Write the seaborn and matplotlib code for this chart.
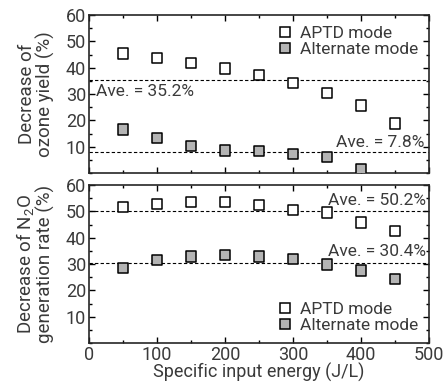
import matplotlib
matplotlib.use("Agg")
import matplotlib.pyplot as plt
import seaborn as sns
import pandas as pd
from matplotlib.ticker import MultipleLocator

energy = [50, 100, 150, 200, 250, 300, 350, 400, 450]
ozone_aptd = [45.4, 43.8, 41.7, 39.7, 37.2, 34.1, 30.3, 25.6, 18.8]
ozone_alt_energy = [50, 100, 150, 200, 250, 300, 350, 400]
ozone_alt = [16.5, 13.2, 10.2, 8.5, 8.3, 7.2, 6.1, 1.3]
n2o_aptd = [51.6, 52.9, 53.5, 53.5, 52.4, 50.6, 49.6, 45.8, 42.6]
n2o_alt = [28.5, 31.5, 32.9, 33.4, 32.9, 31.9, 29.8, 27.5, 24.2]
ave_ozone = [35.2, 7.8]
ave_n2o = [50.2, 30.4]
series_names = ["APTD mode", "Alternate mode"]

sns.set_style("ticks")
plt.rcParams['font.family'] = ['Roboto', 'DejaVu Sans']
plt.rcParams['mathtext.fontset'] = 'custom'
plt.rcParams['mathtext.rm'] = 'Roboto'
plt.rcParams['mathtext.it'] = 'Roboto'

fig = plt.figure(figsize=(4.46, 3.85), dpi=100)
ax1 = fig.add_axes([0.1996, 0.5506, 0.7624, 0.4104])
ax2 = fig.add_axes([0.1996, 0.109, 0.7624, 0.4105])

df_top = pd.concat([
    pd.DataFrame({"energy": energy, "value": ozone_aptd, "mode": series_names[0]}),
    pd.DataFrame({"energy": ozone_alt_energy, "value": ozone_alt, "mode": series_names[1]}),
])
df_bot = pd.concat([
    pd.DataFrame({"energy": energy, "value": n2o_aptd, "mode": series_names[0]}),
    pd.DataFrame({"energy": energy, "value": n2o_alt, "mode": series_names[1]}),
])
pal = {series_names[0]: "white", series_names[1]: "#b4b4b4"}
txt = "#3a3a3a"

for ax, df in [(ax1, df_top), (ax2, df_bot)]:
    sns.scatterplot(data=df, x="energy", y="value", hue="mode", palette=pal,
                    marker="s", s=55, edgecolor="black", linewidth=1.1, ax=ax,
                    zorder=3)
    ax.set_xlim(0, 500)
    ax.set_ylim(0, 60)
    ax.xaxis.set_major_locator(MultipleLocator(100))
    ax.xaxis.set_minor_locator(MultipleLocator(50))
    ax.yaxis.set_major_locator(MultipleLocator(10))
    ax.yaxis.set_minor_locator(MultipleLocator(5))
    ax.tick_params(which="both", direction="in", top=True, right=True,
                   labelsize=13, colors="black", labelcolor=txt, pad=2)
    ax.tick_params(which="major", length=4, width=1)
    ax.tick_params(which="minor", length=2.5, width=1)
    ax.set_yticks([10, 20, 30, 40, 50, 60])
    for sp in ax.spines.values():
        sp.set_linewidth(1.2)
    ax.set_xlabel("")

for v in ave_ozone:
    ax1.axhline(v, color="black", lw=0.8, ls=(0, (3, 2)), zorder=1)
for v in ave_n2o:
    ax2.axhline(v, color="black", lw=0.8, ls=(0, (3, 2)), zorder=1)

ax1.tick_params(labelbottom=False)
ax1.set_ylabel("Decrease of\nozone yield (%)", fontsize=13.5, color=txt, linespacing=1.0)
ax2.set_ylabel("Decrease of N$_2$O\ngeneration rate (%)", fontsize=13.5, color=txt, linespacing=1.0)
ax2.set_xlabel("Specific input energy (J/L)", fontsize=13, color=txt, labelpad=-1)
ax1.yaxis.set_label_coords(-0.10, 0.5)
ax2.yaxis.set_label_coords(-0.10, 0.5)

ax1.text(10, ave_ozone[0] - 1.5, "Ave. = 35.2%", fontsize=12.5, color=txt, va="top", ha="left")
ax1.text(493, ave_ozone[1] + 1.0, "Ave. = 7.8%", fontsize=12.5, color=txt, va="bottom", ha="right")
ax2.text(495, ave_n2o[0] + 1.0, "Ave. = 50.2%", fontsize=12.5, color=txt, va="bottom", ha="right")
ax2.text(495, ave_n2o[1] + 1.5, "Ave. = 30.4%", fontsize=12.5, color=txt, va="bottom", ha="right")

for ax, loc in [(ax1, "upper right"), (ax2, "lower right")]:
    leg = ax.legend(loc=loc, frameon=False, fontsize=12.5, handletextpad=0.4,
                    borderaxespad=0.2, labelspacing=0.05, handlelength=1.0)
    for t in leg.get_texts():
        t.set_color(txt)

fig.savefig("out.png", dpi=100)
